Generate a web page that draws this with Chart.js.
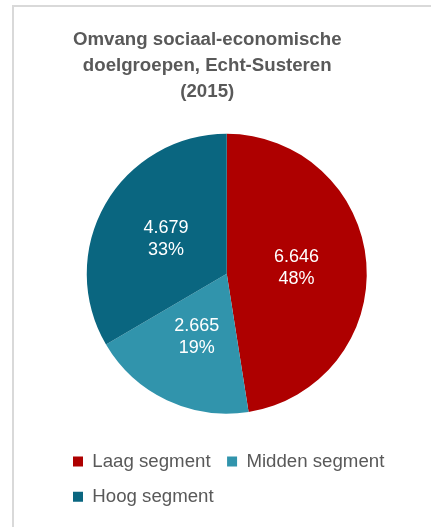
<!DOCTYPE html>
<html lang="nl">
<head>
<meta charset="utf-8">
<title>Omvang sociaal-economische doelgroepen, Echt-Susteren (2015)</title>
<script src="https://cdn.jsdelivr.net/npm/chart.js@4/dist/chart.umd.min.js"></script>
<style>
  html, body { margin: 0; padding: 0; background: #ffffff; }
  #wrap { position: relative; width: 431px; height: 527px; }
</style>
</head>
<body>
<div id="wrap"><canvas id="chart" width="431" height="527"></canvas></div>
<script>
// Segmenten en aantallen huishoudens
const categories = ['Laag segment', 'Midden segment', 'Hoog segment'];
const values = [6646, 2665, 4679];
const sliceColors = ['#AE0000', '#3194AC', '#0A6680'];
const titleLines = ['Omvang sociaal-economische', 'doelgroepen, Echt-Susteren', '(2015)'];

const FONT = '"Liberation Sans", Arial, Helvetica, sans-serif';
const nlNumber = new Intl.NumberFormat('nl-NL');

// Achtergrond en kader van de grafiek
const framePlugin = {
  id: 'frame',
  beforeDraw(chart) {
    const ctx = chart.ctx;
    ctx.save();
    ctx.fillStyle = '#ffffff';
    ctx.fillRect(0, 0, chart.width, chart.height);
    ctx.strokeStyle = '#D9D9D9';
    ctx.lineWidth = 2;
    ctx.beginPath();
    ctx.moveTo(13, chart.height);
    ctx.lineTo(13, 6);
    ctx.lineTo(chart.width, 6);
    ctx.stroke();
    ctx.restore();
  }
};

// Titel en taart horizontaal op hun eigen plek zetten
const placement = {
  id: 'placement',
  afterLayout(chart) {
    if (chart.titleBlock) {
      chart.titleBlock.left -= 36.5;
      chart.titleBlock.right -= 36.5;
    }
    chart.chartArea.left -= 17;
    chart.chartArea.right -= 17;
  }
};

// Waarde en percentage midden in elk taartpunt
const sliceLabels = {
  id: 'sliceLabels',
  afterDatasetsDraw(chart) {
    const ctx = chart.ctx;
    const meta = chart.getDatasetMeta(0);
    const data = chart.data.datasets[0].data;
    const total = data.reduce((a, b) => a + b, 0);
    ctx.save();
    ctx.fillStyle = '#ffffff';
    ctx.font = '18px ' + FONT;
    ctx.textAlign = 'center';
    ctx.textBaseline = 'middle';
    meta.data.forEach((arc, i) => {
      const p = arc.getProps(['x', 'y', 'startAngle', 'endAngle', 'outerRadius'], true);
      const mid = (p.startAngle + p.endAngle) / 2;
      const r = p.outerRadius * 0.5;
      const cx = p.x + Math.cos(mid) * r;
      const cy = p.y + Math.sin(mid) * r;
      const pct = Math.round(data[i] / total * 100) + '%';
      ctx.fillText(nlNumber.format(data[i]), cx, cy - 11);
      ctx.fillText(pct, cx, cy + 11);
    });
    ctx.restore();
  }
};

new Chart(document.getElementById('chart'), {
  type: 'pie',
  data: {
    labels: categories,
    datasets: [{
      data: values,
      backgroundColor: sliceColors,
      borderWidth: 0,
      radius: 140
    }]
  },
  options: {
    responsive: false,
    animation: false,
    layout: { padding: { left: 56.5, right: 0, top: 0, bottom: 11 } },
    plugins: {
      title: {
        display: true,
        text: titleLines,
        color: '#595959',
        font: { family: FONT, size: 18.67, weight: 'bold', lineHeight: 1.39 },
        padding: { top: 27, bottom: 7 }
      },
      legend: {
        display: true,
        position: 'bottom',
        align: 'start',
        labels: {
          boxWidth: 10,
          boxHeight: 10,
          padding: 16.5,
          color: '#595959',
          font: { family: FONT, size: 18.67 }
        }
      },
      tooltip: { enabled: false }
    }
  },
  plugins: [framePlugin, placement, sliceLabels]
});
</script>
</body>
</html>
